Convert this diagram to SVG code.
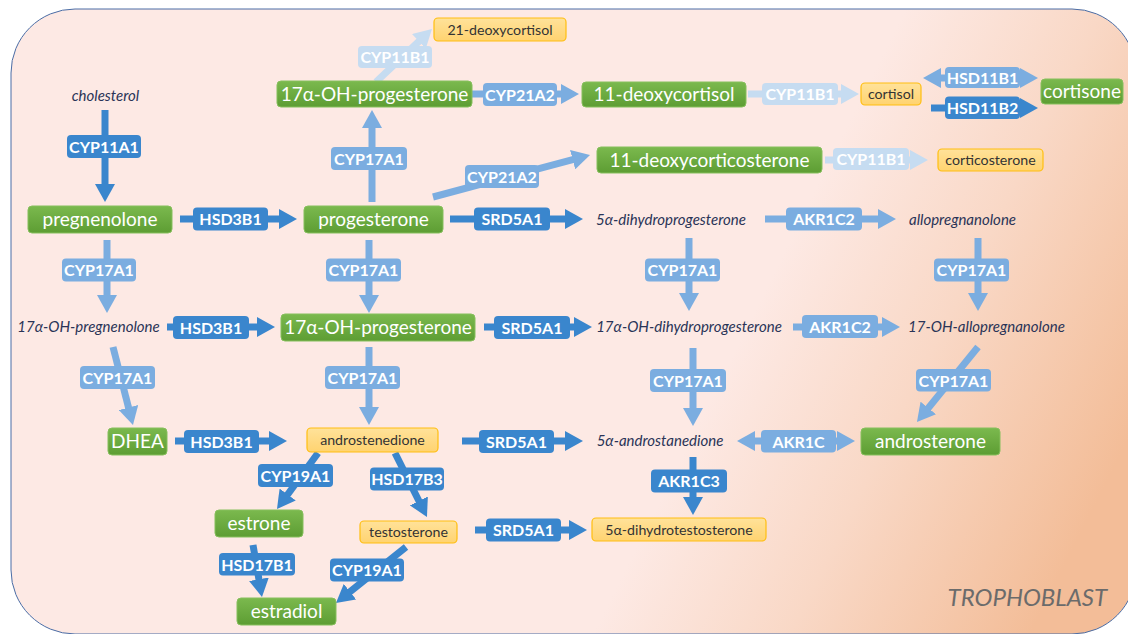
<svg xmlns="http://www.w3.org/2000/svg" width="1128" height="634" viewBox="0 0 1128 634">
<style>
.nd rect{rx:4;ry:4}
.g rect{fill:url(#gg);stroke:#86bf5c;stroke-width:1}
.g text{font-family:Lato,"Liberation Sans",sans-serif;font-size:19px;fill:#fff;text-anchor:middle}
.y rect{fill:url(#yg);stroke:#ffbe10;stroke-width:1.2}
.y text{font-family:Lato,"Liberation Sans",sans-serif;font-size:14.2px;fill:#333;text-anchor:middle}
.it text{font-family:Lato,"Liberation Sans",sans-serif;font-style:italic;font-size:15px;fill:#2a3457;text-anchor:middle}
.e line{stroke-width:7;fill:none}
.e rect{rx:4;ry:4}
.e text{font-family:Lato,"Liberation Sans",sans-serif;font-weight:bold;font-size:16px;fill:#fff;text-anchor:middle}
.d line{stroke:#3a86cd;marker-end:url(#md)}
.d rect{fill:#3a86cd}
.m line{stroke:#7badE0;marker-end:url(#mm)}
.m rect{fill:#7badE0}
.l line{stroke:#c6dcf1;marker-end:url(#ml)}
.l rect{fill:#c6dcf1}
.m line.bi{marker-start:url(#mm)}
</style>
<defs>
<linearGradient id="bg" gradientUnits="userSpaceOnUse" x1="760" y1="300" x2="1110" y2="475">
<stop offset="0" stop-color="#fde9e4"/>
<stop offset="0.45" stop-color="#f9d8c6"/>
<stop offset="1" stop-color="#f3bd98"/>
</linearGradient>
<linearGradient id="gg" x1="0" y1="0" x2="0" y2="1">
<stop offset="0" stop-color="#7bb94e"/>
<stop offset="1" stop-color="#5d9d33"/>
</linearGradient>
<linearGradient id="yg" x1="0" y1="0" x2="0" y2="1">
<stop offset="0" stop-color="#ffe29a"/>
<stop offset="1" stop-color="#ffd370"/>
</linearGradient>
<marker id="md" viewBox="0 0 18 20" refX="4" refY="10" markerWidth="18" markerHeight="20" markerUnits="userSpaceOnUse" orient="auto-start-reverse"><path d="M0,0 L18,10 L0,20 z" fill="#3a86cd"/></marker>
<marker id="mm" viewBox="0 0 18 20" refX="4" refY="10" markerWidth="18" markerHeight="20" markerUnits="userSpaceOnUse" orient="auto-start-reverse"><path d="M0,0 L18,10 L0,20 z" fill="#7badE0"/></marker>
<marker id="ml" viewBox="0 0 18 20" refX="4" refY="10" markerWidth="18" markerHeight="20" markerUnits="userSpaceOnUse" orient="auto-start-reverse"><path d="M0,0 L18,10 L0,20 z" fill="#c6dcf1"/></marker>
</defs>

<rect id="trophoblast-bg" x="11" y="9" width="1125" height="625" rx="64" ry="64" fill="url(#bg)" stroke="#4a6da6" stroke-width="1"/>
<text x="1107" y="606" font-family="Lato,'Liberation Sans',sans-serif" font-style="italic" font-size="24" fill="#6b6b6b" text-anchor="end">TROPHOBLAST</text>

<g id="connectors">
<g class="e d"><line x1="105" y1="110" x2="105" y2="188"/><rect x="67" y="135" width="74" height="23"/><text x="104" y="152.5">CYP11A1</text></g>
<g class="e d"><line x1="180" y1="219" x2="283" y2="219"/><rect x="193" y="207.5" width="75" height="23"/><text x="230.5" y="225">HSD3B1</text></g>
<g class="e d"><line x1="450" y1="219" x2="569" y2="219"/><rect x="474" y="207.5" width="76" height="23"/><text x="512" y="225">SRD5A1</text></g>
<g class="e m"><line x1="765" y1="219" x2="882" y2="219"/><rect x="786" y="207.5" width="76" height="23"/><text x="824" y="225">AKR1C2</text></g>
<g class="e m"><line x1="372" y1="202" x2="372" y2="124"/><rect x="331" y="147" width="76" height="23"/><text x="369" y="164.5">CYP17A1</text></g>
<g class="e m"><line x1="472" y1="94" x2="565" y2="94"/><rect x="483" y="83" width="74" height="23"/><text x="520" y="100.5">CYP21A2</text></g>
<g class="e l"><line x1="376" y1="82" x2="421.8" y2="38.6"/><rect x="358" y="46" width="74" height="22"/><text x="395" y="63">CYP11B1</text></g>
<g class="e l"><line x1="748" y1="94" x2="845" y2="94"/><rect x="762" y="83" width="76" height="22"/><text x="800" y="100">CYP11B1</text></g>
<g class="e m"><line class="bi" x1="937" y1="78" x2="1024" y2="78"/><rect x="945" y="67" width="75" height="21"/><text x="982.5" y="83.5">HSD11B1</text></g>
<g class="e d"><line x1="931" y1="108" x2="1024" y2="108"/><rect x="945" y="96.5" width="75" height="22.5"/><text x="982.5" y="114">HSD11B2</text></g>
<g class="e m"><line x1="433" y1="197" x2="576.5" y2="158.6"/><rect x="465" y="165" width="74" height="23"/><text x="502" y="182.5">CYP21A2</text></g>
<g class="e l"><line x1="825" y1="160" x2="914" y2="160"/><rect x="833" y="148" width="76" height="22"/><text x="871" y="165">CYP11B1</text></g>
<g class="e m"><line x1="107" y1="240" x2="107" y2="299"/><rect x="62" y="258.5" width="74" height="23"/><text x="99" y="276">CYP17A1</text></g>
<g class="e m"><line x1="369" y1="240" x2="369" y2="299"/><rect x="326" y="258.5" width="75" height="23"/><text x="363.5" y="276">CYP17A1</text></g>
<g class="e m"><line x1="689" y1="238" x2="689" y2="297"/><rect x="645" y="258.5" width="75" height="23"/><text x="682.5" y="276">CYP17A1</text></g>
<g class="e m"><line x1="978" y1="238" x2="978" y2="297"/><rect x="934" y="258.5" width="75" height="23"/><text x="971.5" y="276">CYP17A1</text></g>
<g class="e d"><line x1="167" y1="327" x2="261" y2="327"/><rect x="173" y="316" width="76" height="23"/><text x="211" y="333.5">HSD3B1</text></g>
<g class="e d"><line x1="484" y1="327" x2="578" y2="327"/><rect x="494" y="316" width="76" height="23"/><text x="532" y="333.5">SRD5A1</text></g>
<g class="e m"><line x1="793" y1="327" x2="886" y2="327"/><rect x="802" y="315" width="76" height="23"/><text x="840" y="332.5">AKR1C2</text></g>
<g class="e m"><line x1="113" y1="347" x2="129.5" y2="411.4"/><rect x="80" y="366" width="75" height="23"/><text x="117.5" y="383.5">CYP17A1</text></g>
<g class="e m"><line x1="369" y1="347" x2="369" y2="411"/><rect x="325" y="366" width="75" height="23"/><text x="362.5" y="383.5">CYP17A1</text></g>
<g class="e m"><line x1="693" y1="348" x2="693" y2="412"/><rect x="650" y="369" width="76" height="23"/><text x="688" y="386.5">CYP17A1</text></g>
<g class="e m"><line x1="978" y1="347" x2="925.8" y2="411.1"/><rect x="916" y="369" width="75" height="22.5"/><text x="953.5" y="386.5">CYP17A1</text></g>
<g class="e d"><line x1="175" y1="441" x2="273" y2="441"/><rect x="184" y="430" width="75" height="23"/><text x="221.5" y="447.5">HSD3B1</text></g>
<g class="e d"><line x1="462" y1="441" x2="569" y2="441"/><rect x="479" y="430" width="75" height="23"/><text x="516.5" y="447.5">SRD5A1</text></g>
<g class="e m"><line class="bi" x1="751" y1="441" x2="841" y2="441"/><rect x="761" y="430" width="75" height="22.5"/><text x="798.5" y="447.5">AKR1C</text></g>
<g class="e d"><line x1="318" y1="453" x2="285.3" y2="497.7"/><rect x="258" y="464" width="75" height="23"/><text x="295.5" y="481.5">CYP19A1</text></g>
<g class="e d"><line x1="395" y1="453" x2="420.7" y2="504.5"/><rect x="370" y="467.5" width="74" height="23"/><text x="407" y="485">HSD17B3</text></g>
<g class="e d"><line x1="693" y1="457" x2="693" y2="501"/><rect x="651" y="469.5" width="76" height="23"/><text x="689" y="487">AKR1C3</text></g>
<g class="e d"><line x1="475" y1="530" x2="573" y2="530"/><rect x="486" y="518.5" width="75" height="23"/><text x="523.5" y="536">SRD5A1</text></g>
<g class="e d"><line x1="253" y1="545" x2="259.6" y2="583.2"/><rect x="219" y="553" width="76" height="22.5"/><text x="257" y="570.5">HSD17B1</text></g>
<g class="e d"><line x1="406" y1="547" x2="346.9" y2="594.2"/><rect x="330" y="558.5" width="74" height="23"/><text x="367" y="576">CYP19A1</text></g>
</g>

<g id="cholesterol" class="nd it"><text x="105.5" y="101">cholesterol</text></g>
<g id="pregnenolone" class="nd g"><rect x="28" y="206" width="144" height="27"/><text x="100" y="226">pregnenolone</text></g>
<g id="progesterone" class="nd g"><rect x="304" y="206" width="139" height="27"/><text x="373.5" y="226">progesterone</text></g>
<g id="ohp-top" class="nd g"><rect x="277" y="81" width="195" height="26"/><text x="374.5" y="100.5">17α-OH-progesterone</text></g>
<g id="deoxycortisol21" class="nd y"><rect x="434" y="18" width="132" height="23"/><text x="500" y="34.5">21-deoxycortisol</text></g>
<g id="deoxycortisol11" class="nd g"><rect x="582" y="82" width="164" height="25"/><text x="664" y="101">11-deoxycortisol</text></g>
<g id="cortisol" class="nd y"><rect x="861" y="83" width="60" height="22"/><text x="891" y="99">cortisol</text></g>
<g id="cortisone" class="nd g"><rect x="1041" y="79" width="82" height="25"/><text x="1082" y="98">cortisone</text></g>
<g id="deoxycorticosterone" class="nd g"><rect x="597" y="147" width="225" height="26"/><text x="709.5" y="166.5">11-deoxycorticosterone</text></g>
<g id="corticosterone" class="nd y"><rect x="938" y="149" width="105" height="22"/><text x="990.5" y="165">corticosterone</text></g>
<g id="dihydroprogesterone" class="nd it"><text x="671" y="225">5α-dihydroprogesterone</text></g>
<g id="allopregnanolone" class="nd it"><text x="962.5" y="225">allopregnanolone</text></g>
<g id="ohpreg" class="nd it"><text x="88.5" y="332">17α-OH-pregnenolone</text></g>
<g id="ohp-mid" class="nd g"><rect x="281" y="314" width="194" height="27"/><text x="378" y="334">17α-OH-progesterone</text></g>
<g id="ohdhp" class="nd it"><text x="689" y="332">17α-OH-dihydroprogesterone</text></g>
<g id="ohallo" class="nd it"><text x="986.5" y="332">17-OH-allopregnanolone</text></g>
<g id="dhea" class="nd g"><rect x="108" y="428" width="59" height="27"/><text x="137.5" y="448">DHEA</text></g>
<g id="androstenedione" class="nd y"><rect x="307" y="428" width="131" height="24"/><text x="372.5" y="445">androstenedione</text></g>
<g id="androstanedione" class="nd it"><text x="660" y="446">5α-androstanedione</text></g>
<g id="androsterone" class="nd g"><rect x="861" y="428" width="139" height="27"/><text x="930.5" y="448">androsterone</text></g>
<g id="estrone" class="nd g"><rect x="215" y="510" width="88" height="27"/><text x="259" y="530">estrone</text></g>
<g id="testosterone" class="nd y"><rect x="360" y="521" width="97" height="22"/><text x="408.5" y="537">testosterone</text></g>
<g id="dht" class="nd y"><rect x="592" y="518" width="174" height="23"/><text x="679" y="534.5">5α-dihydrotestosterone</text></g>
<g id="estradiol" class="nd g"><rect x="237" y="598" width="99" height="27"/><text x="286.5" y="618">estradiol</text></g>
</svg>
